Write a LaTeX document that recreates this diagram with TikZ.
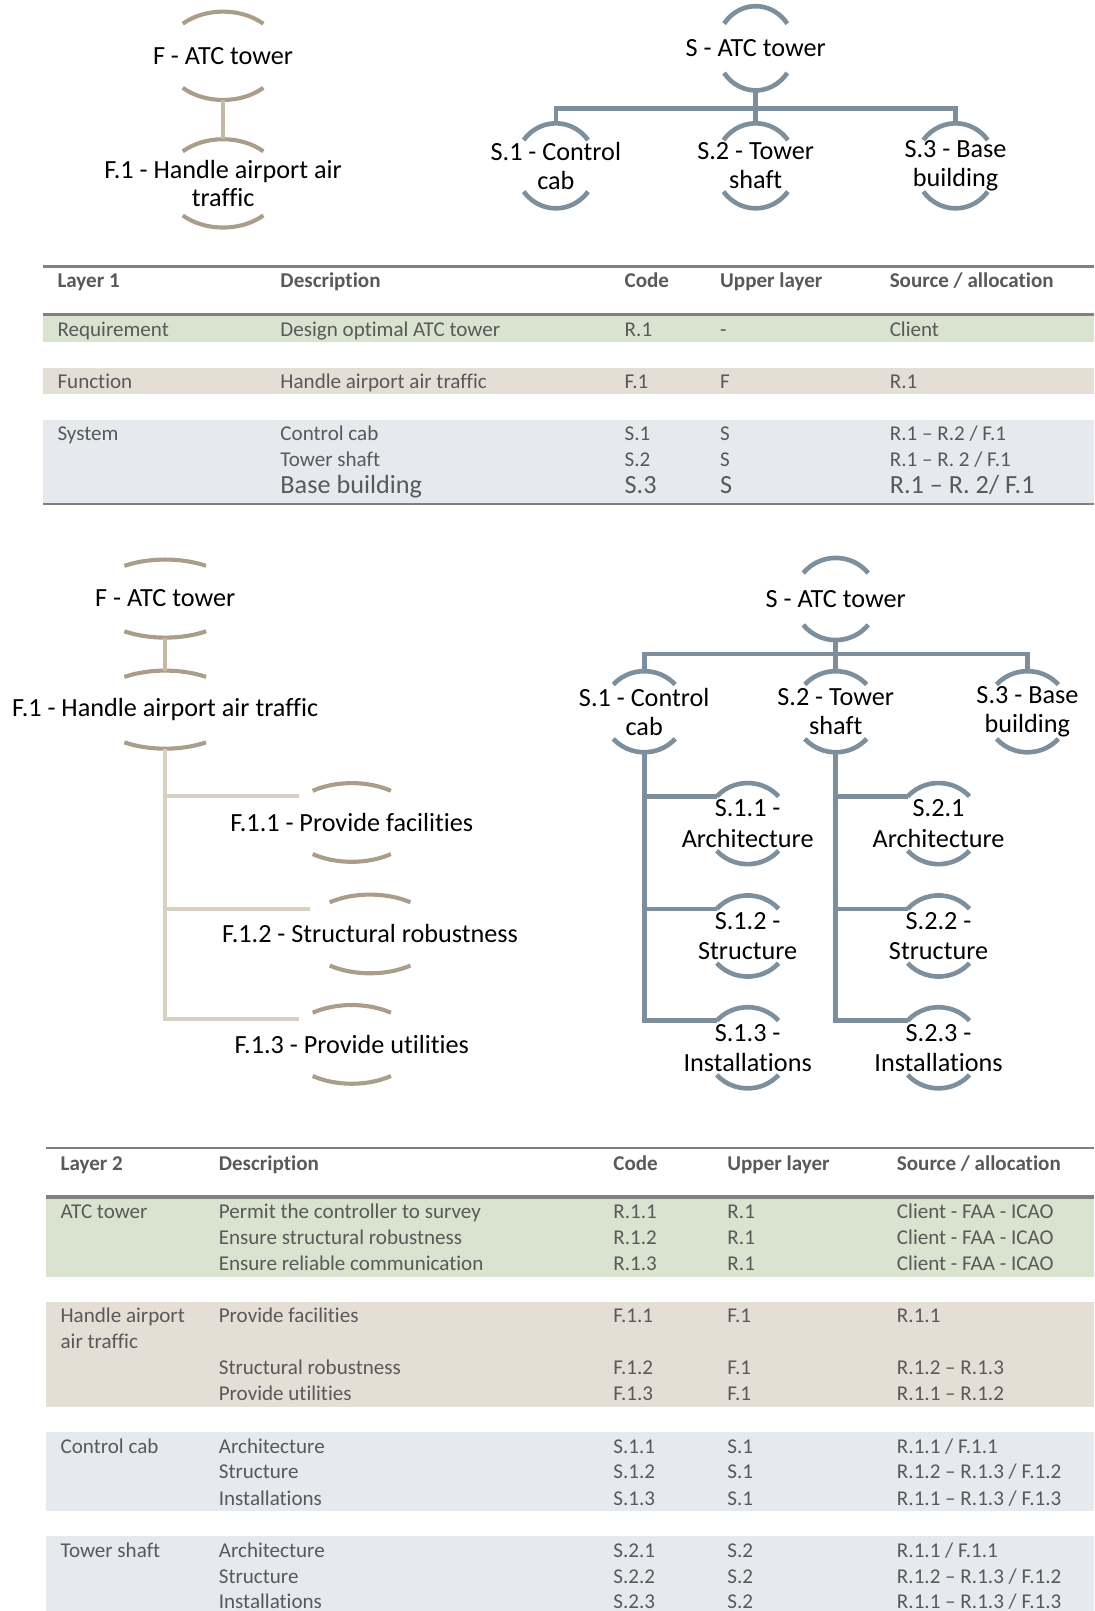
\documentclass[tikz,border=0pt]{standalone}
\usepackage{fontspec}
\setmainfont[Ligatures=NoCommon]{Carlito}
\usetikzlibrary{calc}
\pgfdeclarelayer{back}
\pgfsetlayers{back,main}

\definecolor{slate}{HTML}{7D8F9D}
\definecolor{taupe}{HTML}{AA9D89}
\definecolor{taupelink}{HTML}{C4B8A7}
\definecolor{taupepale}{HTML}{D9D0C4}
\definecolor{bandgreen}{HTML}{DAE3D0}
\definecolor{bandsand}{HTML}{E4DED5}
\definecolor{bandblue}{HTML}{E6E9EE}
\definecolor{rulegray}{HTML}{808080}
\definecolor{inkgray}{HTML}{595959}

% top and bottom arc of an element: node, style, x radius, y radius, half angle
\newcommand{\arcpair}[5]{%
  \draw[#2] ($(#1.center)+({-(#3)*sin(#5)},{(#4)*cos(#5)})$)
    arc[start angle={90+#5}, end angle={90-#5}, x radius=#3, y radius=#4];
  \draw[#2] ($(#1.center)+({-(#3)*sin(#5)},{-(#4)*cos(#5)})$)
    arc[start angle={270-#5}, end angle={270+#5}, x radius=#3, y radius=#4];
}
% table rows: style, name prefix, baseline, cells
\newcommand{\rowfive}[8]{%
  \node[#1] (#2a) at (\ca,-#3) {#4};
  \node[#1] (#2b) at (\cb,-#3) {#5};
  \node[#1] (#2c) at (\cc,-#3) {#6};
  \node[#1] (#2d) at (\cd,-#3) {#7};
  \node[#1] (#2e) at (\ce,-#3) {#8};
}
\newcommand{\rowfour}[7]{%
  \node[#1] (#2b) at (\cb,-#3) {#4};
  \node[#1] (#2c) at (\cc,-#3) {#5};
  \node[#1] (#2d) at (\cd,-#3) {#6};
  \node[#1] (#2e) at (\ce,-#3) {#7};
}

\begin{document}
\begin{tikzpicture}[x=1pt,y=1pt,
  every node/.style={inner sep=0pt, outer sep=0pt},
  tnode/.style={align=center, text=black, font=\fontsize{25.5}{28}\selectfont, minimum height=#1},
  tnodeb/.style={tnode=#1, font=\fontsize{25.5}{29.5}\selectfont},
  sarc/.style={draw=slate, line width=4.5pt},
  farc/.style={draw=taupe, line width=4pt},
  slink/.style={draw=slate, line width=4.5pt},
  flink/.style={draw=taupelink, line width=4pt},
  fbranch/.style={draw=taupepale, line width=4pt},
  cell/.style={anchor=base west, text=inkgray, font=\fontsize{20.5}{24}\selectfont},
  headcell/.style={cell, font=\fontsize{20.5}{24}\selectfont\bfseries},
  bigcell/.style={cell, font=\fontsize{25.5}{28}\selectfont},
  rulebar/.style={draw=rulegray, line width=#1},
]
\useasboundingbox (0,0) rectangle (1065,-1568);

% ---------- layer 1: function tree ----------
\node[tnode=86] (tF) at (217.1,-54.3) {F - ATC tower};
\node[tnode=86] (tF1) at (217.1,-178.5) {F.1 - Handle airport air\\traffic};

% ---------- layer 1: system tree ----------
\node[tnode=82] (tS) at (735.5,-47) {S - ATC tower};
\node[tnode=83] (tS1) at (541,-161.4) {S.1 - Control\\cab};
\node[tnode=83] (tS2) at (735.5,-161.4) {S.2 - Tower\\shaft};
\node[tnode=83] (tS3) at (930,-161.4) {S.3 - Base\\building};

\begin{pgfonlayer}{back}
  \arcpair{tF}{farc}{57}{43}{43.5}
  \arcpair{tF1}{farc}{57}{43}{43.5}
  \draw[flink] (tF.south) -- (tF1.north);
  \arcpair{tS}{sarc}{37.9}{41}{54.2}
  \foreach \n in {tS1,tS2,tS3} {\arcpair{\n}{sarc}{39.4}{41.4}{52.7}}
  \coordinate (tBar) at (735.5,-105.5);
  \draw[slink] (tS.south) -- (tBar);
  \draw[slink] (tS1.north) |- (tBar) -| (tS3.north);
  \draw[slink] (tBar) -- (tS2.north);
\end{pgfonlayer}

% ---------- table, layer 1 ----------
\fill[bandgreen] (42,-307.6) rectangle (1065,-333.3);
\fill[bandsand] (42,-358) rectangle (1065,-383);
\fill[bandblue] (42,-409) rectangle (1065,-490.6);
\draw[rulebar=2.6pt] (42,-259.6) -- (1065,-259.6);
\draw[rulebar=3.2pt] (42,-306) -- (1065,-306);
\draw[rulebar=2.6pt] (42,-490.6) -- (1065,-490.6);

\def\ca{56}\def\cb{273}\def\cc{608}\def\cd{701}\def\ce{866}
\rowfive{headcell}{pH}{280}{Layer 1}{Description}{Code}{Upper layer}{Source / allocation}
\rowfive{cell}{pR}{327.6}{Requirement}{Design optimal ATC tower}{R.1}{-}{Client}
\rowfive{cell}{pF}{378.2}{Function}{Handle airport air traffic}{F.1}{F}{R.1}
\rowfive{cell}{pS}{428.5}{System}{Control cab}{S.1}{S}{R.1 – R.2 / F.1}
\rowfour{cell}{pT}{453.8}{Tower shaft}{S.2}{S}{R.1 – R. 2 / F.1}
\rowfour{bigcell}{pB}{480.3}{Base building}{S.3}{S}{R.1 – R. 2/ F.1}

% ---------- layer 2: function tree ----------
\node[tnode=76] (mF) at (160.8,-582.6) {F - ATC tower};
\node[tnode=76] (mF1) at (160.8,-690.7) {F.1 - Handle airport air traffic};
\node[tnode=77] (mF11) at (342.4,-800.5) {F.1.1 - Provide facilities};
\node[tnode=77] (mF12) at (360.2,-909) {F.1.2 - Structural robustness};
\node[tnode=77] (mF13) at (342.4,-1016.5) {F.1.3 - Provide utilities};

% ---------- layer 2: system tree ----------
\node[tnode=80] (mS) at (813.4,-583) {S - ATC tower};
\node[tnode=79] (mS1) at (627,-692.7) {S.1 - Control\\cab};
\node[tnode=79] (mS2) at (813.4,-692.7) {S.2 - Tower\\shaft};
\node[tnode=79] (mS3) at (1000,-692.7) {S.3 - Base\\building};
\node[tnodeb=79] (mS11) at (727.7,-801.6) {S.1.1 -\\Architecture};
\node[tnodeb=79] (mS12) at (727.7,-911) {S.1.2 -\\Structure};
\node[tnodeb=79] (mS13) at (727.7,-1019.8) {S.1.3 -\\Installations};
\node[tnodeb=79] (mS21) at (913.5,-801.6) {S.2.1\\Architecture};
\node[tnodeb=79] (mS22) at (913.5,-911) {S.2.2 -\\Structure};
\node[tnodeb=79] (mS23) at (913.5,-1019.8) {S.2.3 -\\Installations};

\begin{pgfonlayer}{back}
  \arcpair{mF}{farc}{73}{38}{33}
  \arcpair{mF1}{farc}{73}{38}{33}
  \arcpair{mF11}{farc}{64}{38.3}{36.5}
  \arcpair{mF12}{farc}{66}{38.3}{36.5}
  \arcpair{mF13}{farc}{64}{38.3}{36.5}
  \draw[flink] (mF.south) -- (mF1.north);
  \coordinate (mB1) at ($(mF11.center)+(-51.4,25.5)$);
  \coordinate (mB2) at ($(mF12.center)+(-58.4,24.7)$);
  \coordinate (mB3) at ($(mF13.center)+(-51.4,25.1)$);
  \draw[fbranch] (mF1.south) |- (mB3);
  \draw[fbranch] (mF1.south |- mB1) -- (mB1);
  \draw[fbranch] (mF1.south |- mB2) -- (mB2);

  \arcpair{mS}{sarc}{40.7}{40}{51}
  \foreach \n in {mS1,mS2,mS3,mS11,mS12,mS13,mS21,mS22,mS23} {\arcpair{\n}{sarc}{40.5}{39.5}{48}}
  \coordinate (mBar) at (813.4,-636.7);
  \draw[slink] (mS.south) -- (mBar);
  \draw[slink] (mS1.north) |- (mBar) -| (mS3.north);
  \draw[slink] (mBar) -- (mS2.north);
  \foreach \p in {1,2} {
    \foreach \k in {1,2,3} {\coordinate (mJ\p\k) at ($(mS\p\k.center)+(-30.1,26.4)$);}
    \draw[slink] (mS\p.south) |- (mJ\p3);
    \draw[slink] (mS\p.south |- mJ\p1) -- (mJ\p1);
    \draw[slink] (mS\p.south |- mJ\p2) -- (mJ\p2);
  }
\end{pgfonlayer}

% ---------- table, layer 2 ----------
\fill[bandgreen] (45,-1166.6) rectangle (1065,-1243);
\fill[bandsand] (45,-1267.2) rectangle (1065,-1369.4);
\fill[bandblue] (45,-1393.8) rectangle (1065,-1470.7);
\fill[bandblue] (45,-1495.3) rectangle (1065,-1568);
\draw[rulebar=2.6pt] (45,-1117.5) -- (1065,-1117.5);
\draw[rulebar=3.2pt] (45,-1165) -- (1065,-1165);

\def\ca{59}\def\cb{213}\def\cc{597}\def\cd{708}\def\ce{873}
\rowfive{headcell}{qH}{1139.1}{Layer 2}{Description}{Code}{Upper layer}{Source / allocation}
\rowfive{cell}{qA}{1186.2}{ATC tower}{Permit the controller to survey}{R.1.1}{R.1}{Client - FAA - ICAO}
\rowfour{cell}{qB}{1211.5}{Ensure structural robustness}{R.1.2}{R.1}{Client - FAA - ICAO}
\rowfour{cell}{qC}{1236.5}{Ensure reliable communication}{R.1.3}{R.1}{Client - FAA - ICAO}
\rowfive{cell}{qD}{1287.4}{Handle airport}{Provide facilities}{F.1.1}{F.1}{R.1.1}
\node[cell] (qEa) at (\ca,-1312.7) {air traffic};
\rowfour{cell}{qF}{1337.7}{Structural robustness}{F.1.2}{F.1}{R.1.2 – R.1.3}
\rowfour{cell}{qG}{1363}{Provide utilities}{F.1.3}{F.1}{R.1.1 – R.1.2}
\rowfive{cell}{qK}{1415}{Control cab}{Architecture}{S.1.1}{S.1}{R.1.1 / F.1.1}
\rowfour{cell}{qL}{1439.3}{Structure}{S.1.2}{S.1}{R.1.2 – R.1.3 / F.1.2}
\rowfour{cell}{qM}{1465.2}{Installations}{S.1.3}{S.1}{R.1.1 – R.1.3 / F.1.3}
\rowfive{cell}{qN}{1515.6}{Tower shaft}{Architecture}{S.2.1}{S.2}{R.1.1 / F.1.1}
\rowfour{cell}{qP}{1541.6}{Structure}{S.2.2}{S.2}{R.1.2 – R.1.3 / F.1.2}
\rowfour{cell}{qQ}{1565.9}{Installations}{S.2.3}{S.2}{R.1.1 – R.1.3 / F.1.3}
\end{tikzpicture}
\end{document}
